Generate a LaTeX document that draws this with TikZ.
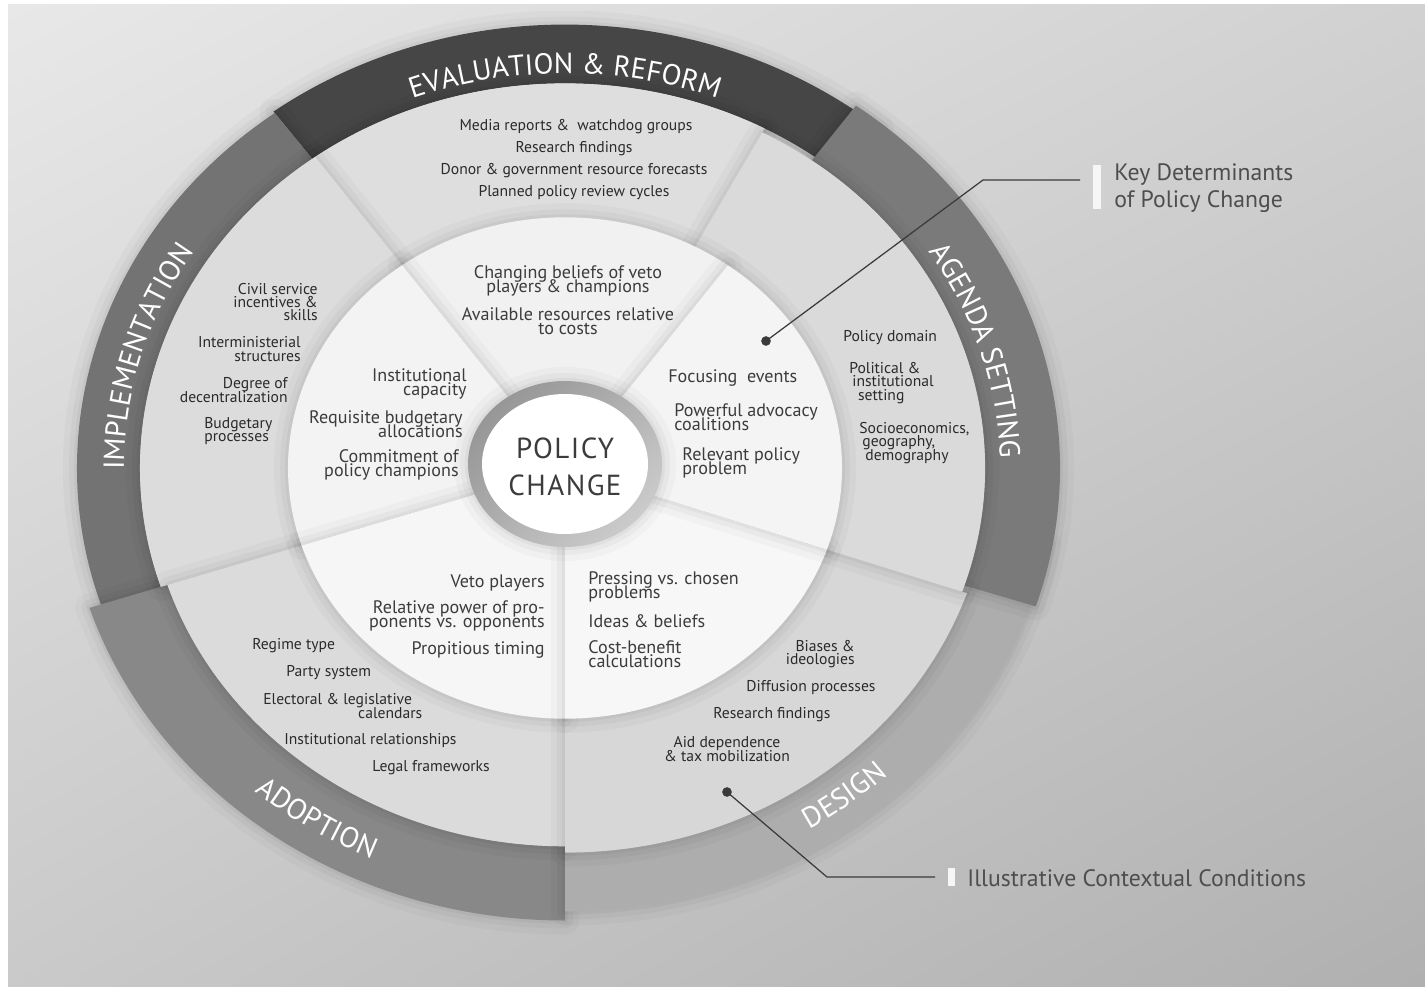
\documentclass[tikz,border=0pt]{standalone}
\usepackage{fontspec}
\setmainfont{PT Sans}
\usetikzlibrary{decorations.text, shadings}

\definecolor{evalband}{HTML}{464646}
\definecolor{implband}{HTML}{737373}
\definecolor{adoptband}{HTML}{888888}
\definecolor{designband}{HTML}{ADADAD}
\definecolor{agendaband}{HTML}{7A7A7A}
\definecolor{evallight}{HTML}{DEDEDE}
\definecolor{impllight}{HTML}{DCDCDC}
\definecolor{adoptlight}{HTML}{DBDBDB}
\definecolor{designlight}{HTML}{D7D7D7}
\definecolor{agendalight}{HTML}{DADADA}
\definecolor{evalmid}{HTML}{F1F1F1}
\definecolor{implmid}{HTML}{F3F3F3}
\definecolor{adoptmid}{HTML}{F6F6F6}
\definecolor{designmid}{HTML}{F7F7F7}
\definecolor{agendamid}{HTML}{F4F4F4}
\definecolor{itemdark}{HTML}{2A2A2A}
\definecolor{itemmid}{HTML}{3C3C3C}
\definecolor{leadergray}{HTML}{3A3A3A}
\definecolor{legendgray}{HTML}{4E4E4E}
\definecolor{barwhite}{HTML}{F6F6F6}

\newcommand{\outeritemfont}{\fontsize{8.9}{7.6}\selectfont\lineskiplimit=-20pt}
\newcommand{\middleitemfont}{\fontsize{10.3}{7.7}\selectfont\lineskiplimit=-20pt}
\newcommand{\bandfont}{\fontsize{16.5}{16.5}\selectfont\color{white}}

% slice of the wheel and piece of the outer band
\newcommand{\wheelslice}[4]{\fill[#1] (0,0) -- (#2:#4) arc[start angle=#2, end angle=#3, radius=#4] -- cycle;}
\newcommand{\wheelband}[5]{\fill[#1] (#2:#4) arc[start angle=#2, end angle=#3, radius=#4] -- (#3:#5) arc[start angle=#3, end angle=#2, radius=#5] -- cycle;}

\tikzstyle{softshadow} = [preaction={draw=black, draw opacity=0.025, line width=16pt, line join=round}, preaction={draw=black, draw opacity=0.03, line width=9pt, line join=round}, preaction={draw=black, draw opacity=0.035, line width=3.5pt, line join=round}]
\tikzstyle{outeritem} = [inner sep=0pt, text=itemdark, font=\outeritemfont]
\tikzstyle{middleitem} = [inner sep=0pt, text=itemmid, font=\middleitemfont]
\tikzstyle{leaderdot} = [circle, fill=leadergray, inner sep=0pt, minimum size=5.5pt]
\tikzstyle{leader} = [draw=leadergray, line width=0.7pt]
\tikzstyle{legendbar} = [rectangle, fill=barwhite, inner sep=0pt]
\tikzstyle{legendtext} = [inner sep=0pt, anchor=west, align=left, text=legendgray, font=\fontsize{13.5}{15.3}\selectfont]
\tikzstyle{bandlabel} = [decorate, decoration={text along path, text align=center}]

\begin{document}
\begin{tikzpicture}[x=0.02cm, y=0.02cm]

\useasboundingbox (0,0) rectangle (1425,-990);
\fill[white] (0,0) rectangle (1425,-990);
\shade[upper left=black!9, upper right=black!18, lower left=black!21, lower right=black!31] (8,-5) rectangle (1425,-986);

% Wheel
\begin{scope}[shift={(565,-468)}, yscale=0.905]
% outer bands
\wheelband{softshadow, evalband}{50}{126.5}{425}{490}
\wheelband{softshadow, implband}{126.5}{205}{425}{488}
\wheelband{softshadow, adoptband}{198}{270}{418}{500}
\wheelband{softshadow, designband}{270}{350}{425}{490}
\wheelband{softshadow, agendaband}{-18}{54}{420}{495}
% contextual conditions
\wheelslice{softshadow, evallight}{62}{126}{425}
\wheelslice{softshadow, impllight}{126}{198}{425}
\wheelslice{softshadow, adoptlight}{198}{270}{418}
\wheelslice{softshadow, designlight}{270}{341}{425}
\wheelslice{softshadow, agendalight}{-19}{62}{420}
% key determinants
\wheelslice{softshadow, evalmid}{54}{126}{277}
\wheelslice{softshadow, implmid}{126}{198}{277}
\wheelslice{softshadow, adoptmid}{198}{270}{277}
\wheelslice{softshadow, designmid}{270}{341}{277}
\wheelslice{softshadow, agendamid}{-19}{54}{277}
% band labels
\path [bandlabel, decoration={text={|\bandfont|EVALUATION {\&} REFORM}}] (122:436) arc[start angle=122, end angle=58, radius=436];
\path [bandlabel, decoration={text={|\bandfont|IMPLEMENTATION}}] (196:441) arc[start angle=196, end angle=132, radius=441];
\path [bandlabel, decoration={text={|\bandfont|AGENDA SETTING}}] (50:435) arc[start angle=50, end angle=-16, radius=435];
\path [bandlabel, decoration={text={|\bandfont|ADOPTION}}] (210:473) arc[start angle=210, end angle=264, radius=473];
\path [bandlabel, decoration={text={|\bandfont|DESIGN}}] (-76:468) arc[start angle=-76, end angle=-28, radius=468];
\end{scope}

% Centre
\shade[softshadow, upper left=black!45, upper right=black!30, lower left=black!32, lower right=black!16] (565,-464) ellipse [x radius=97, y radius=83];
\fill[white] (565,-464) ellipse [x radius=83, y radius=70];
\node (policy) [inner sep=0pt, align=center, text=itemmid, font=\fontsize{16.5}{21}\selectfont\addfontfeatures{LetterSpace=5}] at (565,-467) {POLICY\\CHANGE};

% Evaluation & reform
\node (evmedia) [outeritem] at (576,-127) {Media reports \& \ watchdog groups};
\node (evresearch) [outeritem] at (574,-149) {Research findings};
\node (evdonor) [outeritem] at (574,-171) {Donor \& government resource forecasts};
\node (evplanned) [outeritem] at (574,-193) {Planned policy review cycles};
\node (mbeliefs) [middleitem, align=center] at (568,-281) {Changing beliefs of veto\\players \& champions};
\node (mresources) [middleitem, align=center] at (568,-321) {Available resources relative\\to costs};

% Implementation
\node (imcivil) [outeritem, align=right, anchor=east] at (318,-302) {Civil service\\incentives \&\\skills};
\node (iminter) [outeritem, align=right, anchor=east] at (301,-349) {Interministerial\\structures};
\node (imdegree) [outeritem, align=right, anchor=east] at (288,-390) {Degree of\\decentralization};
\node (imbudget) [outeritem, align=left, anchor=west] at (204,-431) {Budgetary\\processes};
\node (mcapacity) [middleitem, align=right, anchor=east] at (467,-384) {Institutional\\capacity};
\node (mbudget) [middleitem, align=right, anchor=east] at (463,-424) {Requisite budgetary\\allocations};
\node (mcommit) [middleitem, align=right, anchor=east] at (459,-465) {Commitment of\\policy champions};

% Agenda setting
\node (mfocus) [middleitem, anchor=west] at (668,-378) {Focusing\ \ events};
\node (madvocacy) [middleitem, align=left, anchor=west] at (674,-417) {Powerful advocacy\\coalitions};
\node (mrelevant) [middleitem, align=left, anchor=west] at (682,-463) {Relevant policy\\problem};
\node (agdomain) [outeritem, anchor=west] at (843,-338) {Policy domain};
\node (agpolitical) [outeritem, align=left, anchor=west] at (849,-383) {Political \&\\\hspace*{1.7pt}institutional\\\hspace*{5pt}setting};
\node (agsocio) [outeritem, align=left, anchor=west] at (859,-443) {Socioeconomics,\\\hspace*{1.7pt}geography,\\\hspace*{3.4pt}demography};

% Adoption
\node (mveto) [middleitem, anchor=east] at (545,-583) {Veto players};
\node (mrelative) [middleitem, align=right, anchor=east] at (545,-616) {Relative power of pro-\\ponents vs. opponents};
\node (mtiming) [middleitem, anchor=east] at (545,-650) {Propitious timing};
\node (adregime) [outeritem, anchor=west] at (252,-646) {Regime type};
\node (adparty) [outeritem, anchor=west] at (286,-673) {Party system};
\node (adelectoral) [outeritem, align=left, anchor=west] at (263,-706) {Electoral \& legislative\\\hspace*{54pt}calendars};
\node (adinst) [outeritem, anchor=west] at (284,-741) {Institutional relationships};
\node (adlegal) [outeritem, anchor=west] at (372,-768) {Legal frameworks};

% Design
\node (mpressing) [middleitem, align=left, anchor=west] at (588,-587) {Pressing vs. chosen\\problems};
\node (mideas) [middleitem, anchor=west] at (588,-621) {Ideas \& beliefs};
\node (mcost) [middleitem, align=left, anchor=west] at (588,-654) {Cost-benefit\\calculations};
\node (debiases) [outeritem, align=right, anchor=east] at (855,-654) {Biases \&\\ideologies};
\node (dediffusion) [outeritem, anchor=west] at (746,-688) {Diffusion processes};
\node (deresearch) [outeritem, anchor=west] at (713,-715) {Research findings};
\node (deaid) [outeritem, align=center] at (727,-749) {Aid dependence\\\& tax mobilization};

% Legend
\node (dotkey) [leaderdot] at (766,-341) {};
\coordinate (kinkkey) at (983,-180);
\coordinate (endkey) at (1080,-180);
\node (barkey) [legendbar, minimum width=0.16cm, minimum height=0.9cm] at (1097,-187) {};
\node (keytext) [legendtext] at (1114,-188) {Key Determinants\\of Policy Change};

\node (dotcontext) [leaderdot] at (727,-792) {};
\coordinate (kinkcontext) at (827,-877);
\coordinate (endcontext) at (935,-877);
\node (barcontext) [legendbar, minimum width=0.14cm, minimum height=0.36cm] at (951.5,-877) {};
\node (contexttext) [legendtext] at (967,-878) {Illustrative Contextual Conditions};

% Leaders
\draw [leader] (dotkey.center) -- (kinkkey) -- (endkey);
\draw [leader] (dotcontext.center) -- (kinkcontext) -- (endcontext);

\end{tikzpicture}
\end{document}
